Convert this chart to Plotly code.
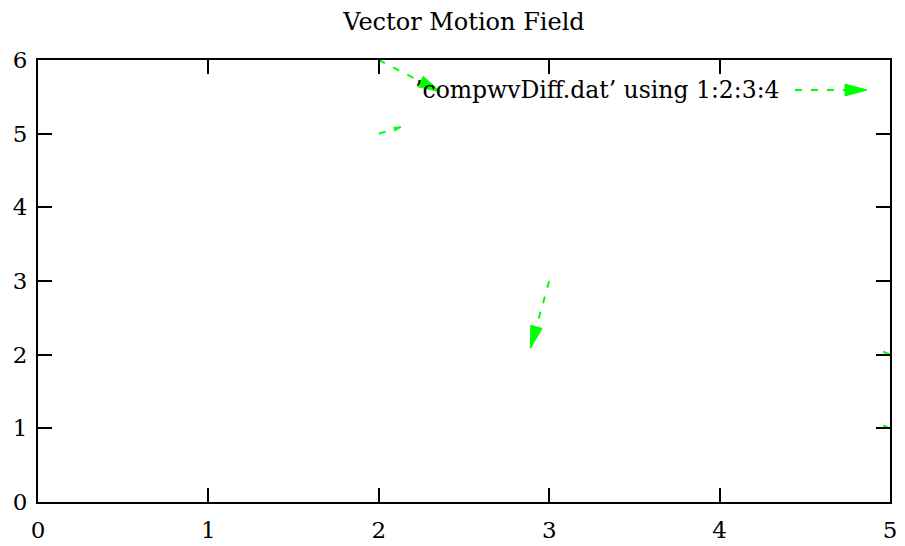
import math
import plotly.graph_objects as go

# Vector field samples: origin (x, y) and displacement (dx, dy)
x0 = [2, 2, 3, 5, 5]
y0 = [6, 5, 3, 2, 1]
dx = [0.36, 0.13, -0.11, -0.04, -0.04]
dy = [-0.43, 0.09, -0.91, 0.04, 0.04]

x_ticks = [0, 1, 2, 3, 4, 5]
y_ticks = [0, 1, 2, 3, 4, 5, 6]

series_label = "\u2019compwvDiff.dat\u2019 using 1:2:3:4"
title_text = "Vector Motion Field"

GREEN = "#00ff00"
FONT = "DejaVu Serif"

W, H = 905, 546
ML, MR, MT, MB = 38, 15, 60, 44
PW, PH = W - ML - MR, H - MT - MB
XR, YR = (0, 5), (0, 6)
sx = PW / (XR[1] - XR[0])   # pixels per x unit
sy = PH / (YR[1] - YR[0])   # pixels per y unit

HEAD_LEN = 22.0
HEAD_ANG = math.radians(15)

fig = go.Figure()

for xa, ya, ux, uy in zip(x0, y0, dx, dy):
    xb, yb = xa + ux, ya + uy
    # direction in screen pixels (y up)
    px, py = ux * sx, uy * sy
    L = math.hypot(px, py)
    fig.add_trace(go.Scatter(
        x=[xa, xb], y=[ya, yb], mode="lines",
        line=dict(color=GREEN, width=2, dash="7px,9px"),
        hoverinfo="skip", showlegend=False, cliponaxis=False))
    if L == 0:
        continue
    hl = HEAD_LEN if L >= 2 * HEAD_LEN else 0.3 * L
    hw = hl * math.tan(HEAD_ANG)
    ex, ey = px / L, py / L
    nx, ny = -ey, ex
    bx, by = -ex * hl, -ey * hl
    tri_x = [xb, xb + (bx + nx * hw) / sx, xb + (bx - nx * hw) / sx, xb]
    tri_y = [yb, yb + (by + ny * hw) / sy, yb + (by - ny * hw) / sy, yb]
    fig.add_trace(go.Scatter(
        x=tri_x, y=tri_y, mode="lines", fill="toself",
        fillcolor=GREEN, line=dict(color=GREEN, width=1),
        hoverinfo="skip", showlegend=False))

# Key entry: dashed sample arrow drawn in paper coordinates
def to_paper(px_x, px_y):
    return (px_x - ML) / PW, (H - MB - px_y) / PH

kx0, ky = to_paper(795, 90)
kx1, _ = to_paper(867, 90)
fig.add_shape(type="line", xref="paper", yref="paper",
              x0=kx0, y0=ky, x1=kx1, y1=ky,
              line=dict(color=GREEN, width=2, dash="7px,9px"))
hx, hy_top = to_paper(867 - HEAD_LEN, 90 - HEAD_LEN * math.tan(HEAD_ANG))
_, hy_bot = to_paper(867 - HEAD_LEN, 90 + HEAD_LEN * math.tan(HEAD_ANG))
fig.add_shape(type="path", xref="paper", yref="paper",
              path=f"M {kx1},{ky} L {hx},{hy_top} L {hx},{hy_bot} Z",
              fillcolor=GREEN, line=dict(color=GREEN, width=1))
tx, _ = to_paper(782, 90)
fig.add_annotation(xref="paper", yref="paper", x=tx, y=ky,
                   xanchor="right", yanchor="middle", showarrow=False,
                   text=series_label, font=dict(family=FONT, size=23.5, color="black"))

axis_common = dict(
    showgrid=False, zeroline=False, showline=True, linecolor="black",
    linewidth=2, mirror="ticks", ticks="inside", ticklen=14,
    tickwidth=2, tickcolor="black", automargin=False,
    tickfont=dict(family=FONT, size=23, color="black"),
)

fig.update_layout(
    width=W, height=H,
    margin=dict(l=ML, r=MR, t=MT, b=MB, autoexpand=False),
    paper_bgcolor="white", plot_bgcolor="white",
    showlegend=False,
    title=dict(text=title_text, x=(ML + PW / 2) / W, xanchor="center",
               y=1 - 22 / H, yanchor="middle",
               font=dict(family=FONT, size=24, color="black")),
    xaxis=dict(range=list(XR), tickvals=x_ticks, ticklabelstandoff=6,
               **axis_common),
    yaxis=dict(range=list(YR), tickvals=y_ticks, ticklabelstandoff=4,
               **axis_common),
)

fig.write_html("out.html")
